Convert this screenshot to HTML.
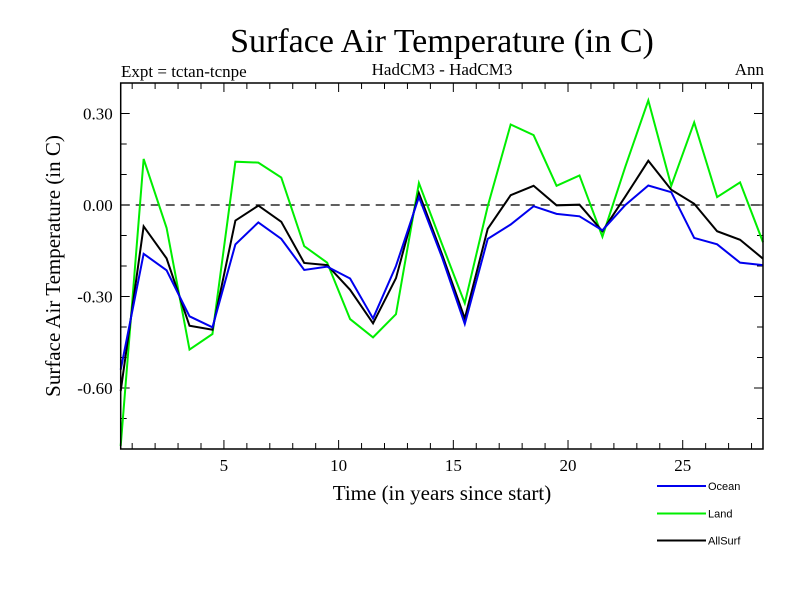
<!DOCTYPE html>
<html><head><meta charset="utf-8"><style>
html,body{margin:0;padding:0;background:#fff;}
svg{display:block;font-family:"Liberation Serif",serif;}
</style></head><body>
<svg id="chart" width="800" height="600" viewBox="0 0 800 600" xmlns="http://www.w3.org/2000/svg">
<rect width="800" height="600" fill="#fff"/>
<text x="442" y="52" font-size="34" text-anchor="middle">Surface Air Temperature (in C)</text>
<text x="121" y="77" font-size="17">Expt = tctan-tcnpe</text>
<text x="442" y="75" font-size="17" text-anchor="middle">HadCM3 - HadCM3</text>
<text x="764" y="75" font-size="17" text-anchor="end">Ann</text>
<text x="442" y="500" font-size="21" text-anchor="middle">Time (in years since start)</text>
<text transform="translate(60,266) rotate(-90)" font-size="21" text-anchor="middle">Surface Air Temperature (in C)</text>
<g id="plot"></g>
</svg>
<script>
const years = [0.5,1.5,2.5,3.5,4.5,5.5,6.5,7.5,8.5,9.5,10.5,11.5,12.5,13.5,14.5,15.5,16.5,17.5,18.5,19.5,20.5,21.5,22.5,23.5,24.5,25.5,26.5,27.5,28.5];
const ocean = [-0.54,-0.16,-0.214,-0.365,-0.401,-0.129,-0.057,-0.111,-0.213,-0.202,-0.241,-0.372,-0.2,0.026,-0.17,-0.39,-0.111,-0.064,-0.004,-0.029,-0.037,-0.083,0.0,0.064,0.042,-0.108,-0.129,-0.189,-0.197];
const land = [-0.79,0.151,-0.075,-0.474,-0.423,0.142,0.139,0.09,-0.135,-0.189,-0.374,-0.434,-0.358,0.072,-0.127,-0.322,-0.004,0.264,0.229,0.063,0.097,-0.104,0.126,0.343,0.063,0.271,0.026,0.074,-0.122];
const allsurf = [-0.61,-0.07,-0.175,-0.396,-0.409,-0.051,-0.002,-0.055,-0.19,-0.197,-0.278,-0.388,-0.24,0.039,-0.16,-0.372,-0.078,0.032,0.063,-0.001,0.001,-0.086,0.028,0.145,0.05,0.004,-0.086,-0.114,-0.176];
const yTicks = [0.3,0.0,-0.3,-0.6];
const yTickLabels = ["0.30","0.00","-0.30","-0.60"];
const xTicks = [5,10,15,20,25];
const xTickLabels = ["5","10","15","20","25"];

const L=120.7,R=763,T=83,B=449, X0=0.5,X1=28.5, Y0=-0.8,Y1=0.4;
const sx=v=>L+(v-X0)/(X1-X0)*(R-L);
const sy=v=>B-(v-Y0)/(Y1-Y0)*(B-T);
const NS="http://www.w3.org/2000/svg";
const g=document.getElementById('plot');
function mk(t,a){const e=document.createElementNS(NS,t);for(const k in a)e.setAttribute(k,a[k]);g.appendChild(e);return e;}

// zero line
let z=mk('line',{x1:L,x2:R,y1:sy(0),y2:sy(0),stroke:'#000','stroke-width':1.2,'stroke-dasharray':'9,6'});



// minor/major ticks
for(let i=1;i<=28;i++){
  const x=sx(i), major=(i%5===0), len=major?9:6;
  const t=mk('line',{x1:x,x2:x,y1:B,y2:B-len,stroke:'#000','stroke-width':1});
  
  
  const t2=mk('line',{x1:x,x2:x,y1:T,y2:T+len,stroke:'#000','stroke-width':1});
  
  
}
for(let k=-7;k<=3;k++){
  const v=k/10, y=sy(v), major=(k%3===0), len=major?9:6;
  const t=mk('line',{x1:L,x2:L+len,y1:y,y2:y,stroke:'#000','stroke-width':1});
  
  
  const t2=mk('line',{x1:R,x2:R-len,y1:y,y2:y,stroke:'#000','stroke-width':1});
  
  
}
xTicks.forEach((v,i)=>{
  const t=mk('text',{x:sx(v),y:B+22,'font-size':17,'text-anchor':'middle'});
  t.textContent=xTickLabels[i];
  
  
});
yTicks.forEach((v,i)=>{
  const t=mk('text',{x:L-8,y:sy(v)+6,'font-size':17,'text-anchor':'end'});
  t.textContent=yTickLabels[i];
  
  
});

function series(vals,color,name){
  const p=mk('polyline',{points:years.map((x,i)=>sx(x)+','+sy(vals[i])).join(' '),fill:'none',stroke:color,'stroke-width':2,'stroke-linejoin':'miter'});
  
  
}
series(land,'#00ee00','land-line');
series(allsurf,'#000000','allsurf-line');
series(ocean,'#0000ee','ocean-line');

let fr=mk('rect',{x:L,y:T,width:R-L,height:B-T,fill:'none',stroke:'#000','stroke-width':1.5});



const legNames=['Ocean','Land','AllSurf'], legColors=['#0000ee','#00ee00','#000000'], legY=[486,513.5,540.5];
legNames.forEach((n,i)=>{
  const l=mk('line',{x1:657,x2:706,y1:legY[i],y2:legY[i],stroke:legColors[i],'stroke-width':2});
  
  
  const t=mk('text',{x:708,y:legY[i]+4,'font-size':11,'font-family':'Liberation Sans, sans-serif'});
  t.textContent=n;
  
  
});
</script>
</body></html>
